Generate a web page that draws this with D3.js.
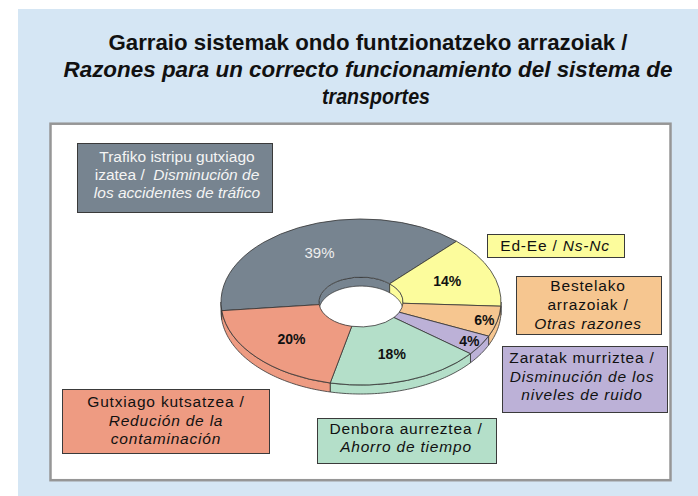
<!DOCTYPE html>
<html>
<head>
<meta charset="utf-8">
<script src="https://cdn.jsdelivr.net/npm/d3@7"></script>
<style>
  body { margin: 0; background: #fff; }
  svg { display: block; }
  text { font-family: "Liberation Sans", Arial, sans-serif; white-space: pre; }
</style>
</head>
<body>
<svg width="698" height="496"></svg>
<script>
// data, slices in clockwise order starting at the grey one
var values = [39, 14, 6, 4, 18, 20];
var percentLabels = ["39%", "14%", "6%", "4%", "18%", "20%"];
var colors = ["#778490", "#fcfc9c", "#f6c690", "#bcb1d7", "#b4dfc9", "#ee9b82"];
var titleLines = [
    "Garraio sistemak ondo funtzionatzeko arrazoiak /",
    "Razones para un correcto funcionamiento del sistema de",
    "transportes"
];
// each box: lines, each line: [text, italic]
var boxTexts = [
    [[["Trafiko istripu gutxiago", false]], [["izatea /  ", false], ["Disminución de", true]], [["los accidentes de tráfico", true]]],
    [[["Ed-Ee / ", false], ["Ns-Nc", true]]],
    [[["Bestelako", false]], [["arrazoiak /", false]], [["Otras razones", true]]],
    [[["Zaratak murriztea /", false]], [["Disminución de los", true]], [["niveles de ruido", true]]],
    [[["Denbora aurreztea /", false]], [["Ahorro de tiempo", true]]],
    [[["Gutxiago kutsatzea /", false]], [["Redución de la", true]], [["contaminación", true]]]
];

// layout of the callout boxes: x0, y0, x1, y1, first baseline, line step, text centre
var boxLayout = [
    [77, 143, 272, 212, 162, 18, 177],
    [487, 234, 624, 257, 251, 18, 555],
    [516, 276, 661, 334, 290.5, 19, 588],
    [502, 346, 667, 412, 363, 18.5, 582],
    [317, 418, 496, 463, 434, 18, 406],
    [62, 389, 269, 453, 407, 18.5, 166]
];

var svg = d3.select("svg");

// backgrounds
svg.append("rect").attr("x", 18).attr("y", 9).attr("width", 680).attr("height", 487)
    .attr("fill", "#d5e6f4");
svg.append("rect").attr("x", 50.5).attr("y", 123.7).attr("width", 620).attr("height", 356.5)
    .attr("fill", "#fff").attr("stroke", "#969696").attr("stroke-width", 2.5);

// title
var titleW = [519, 609, 108];
titleLines.forEach(function(t, i) {
    svg.append("text")
        .attr("x", i == 2 ? 376 : 368).attr("y", 50 + i * 27)
        .attr("text-anchor", "middle")
        .attr("font-size", 21.5)
        .attr("font-weight", "bold")
        .attr("font-style", i == 0 ? "normal" : "italic")
        .attr("fill", "#111")
        .attr("textLength", titleW[i])
        .attr("lengthAdjust", "spacingAndGlyphs")
        .text(t);
});

// pie
var cx = 361, cy = 302, rOuter = 140, rInner = 42, tilt = 0.593, depth = 9;
var start = -96 * Math.PI / 180;
var pie = d3.pie().sort(null).startAngle(start).endAngle(start + 2 * Math.PI);
var arcs = pie(values);
var arc = d3.arc().innerRadius(rInner).outerRadius(rOuter);

var g = svg.append("g").attr("transform", "translate(" + cx + "," + cy + ")");

function pt(a, r, z) {
    return [r * Math.sin(a), -r * tilt * Math.cos(a) + z];
}

function band(a0, a1, r) {
    var n = Math.max(2, Math.ceil((a1 - a0) / 0.02));
    var angs = d3.range(n + 1).map(function(i) { return a0 + (a1 - a0) * i / n; });
    var top = angs.map(function(a) { return pt(a, r, 0); });
    var bot = angs.slice().reverse().map(function(a) { return pt(a, r, depth); });
    return d3.line()(top.concat(bot)) + "Z";
}

// parts of [a0,a1] inside windows [lo + 2pi k, hi + 2pi k]
function pieces(a0, a1, lo, hi) {
    var out = [];
    for (var k = -1; k <= 1; k++) {
        var s = Math.max(a0, lo + 2 * Math.PI * k), e = Math.min(a1, hi + 2 * Math.PI * k);
        if (e > s) out.push([s, e]);
    }
    return out;
}

// outer front walls
arcs.forEach(function(d, i) {
    pieces(d.startAngle, d.endAngle, Math.PI / 2, 3 * Math.PI / 2).forEach(function(p) {
        g.append("path").attr("d", band(p[0], p[1], rOuter))
            .attr("fill", colors[i]).attr("stroke", "#333").attr("stroke-width", 0.8);
    });
});

// inner back walls, seen through the hole
g.append("clipPath").attr("id", "hole")
    .append("ellipse").attr("cx", 0).attr("cy", 0).attr("rx", rInner).attr("ry", rInner * tilt);
var inner = g.append("g").attr("clip-path", "url(#hole)");
arcs.forEach(function(d, i) {
    pieces(d.startAngle, d.endAngle, -Math.PI / 2, Math.PI / 2).forEach(function(p) {
        inner.append("path").attr("d", band(p[0], p[1], rInner))
            .attr("fill", colors[i]).attr("stroke", "#333").attr("stroke-width", 0.8);
    });
});

// top faces
var topG = g.append("g").attr("transform", "scale(1," + tilt + ")");
topG.selectAll("path")
    .data(arcs)
    .enter().append("path")
    .attr("d", arc)
    .attr("fill", function(d, i) { return colors[i]; })
    .attr("stroke", "#333")
    .attr("stroke-width", 0.8)
    .attr("vector-effect", "non-scaling-stroke");

// percent labels
var labelArc = d3.arc().innerRadius(93).outerRadius(93);
var smallArc = d3.arc().innerRadius(127).outerRadius(127);
g.selectAll(".pct")
    .data(arcs)
    .enter().append("text")
    .attr("class", "pct")
    .attr("transform", function(d) {
        var c = (d.value < 10 ? smallArc : labelArc).centroid(d);
        return "translate(" + c[0] + "," + (c[1] * tilt + 5) + ")";
    })
    .attr("text-anchor", "middle")
    .attr("font-size", function(d, i) { return i == 0 ? 15 : 14; })
    .attr("font-weight", function(d, i) { return i == 0 ? "normal" : "bold"; })
    .attr("fill", function(d, i) { return i == 0 ? "#eeeeee" : "#111"; })
    .text(function(d, i) { return percentLabels[i]; });

// callout boxes
boxTexts.forEach(function(lines, i) {
    var b = boxLayout[i];
    svg.append("rect")
        .attr("x", b[0] + 0.5).attr("y", b[1] + 0.5)
        .attr("width", b[2] - b[0]).attr("height", b[3] - b[1])
        .attr("fill", colors[i]).attr("stroke", "#3a3a3a").attr("stroke-width", 1);
    lines.forEach(function(segs, j) {
        var t = svg.append("text")
            .attr("x", b[6])
            .attr("y", b[4] + j * b[5])
            .attr("text-anchor", "middle")
            .attr("font-size", 15.5)
            .attr("letter-spacing", i == 0 ? 0 : 0.8)
            .attr("fill", i == 0 ? "#f4f4f4" : "#111");
        segs.forEach(function(s) {
            t.append("tspan").attr("font-style", s[1] ? "italic" : "normal").text(s[0]);
        });
    });
});
</script>
</body>
</html>
